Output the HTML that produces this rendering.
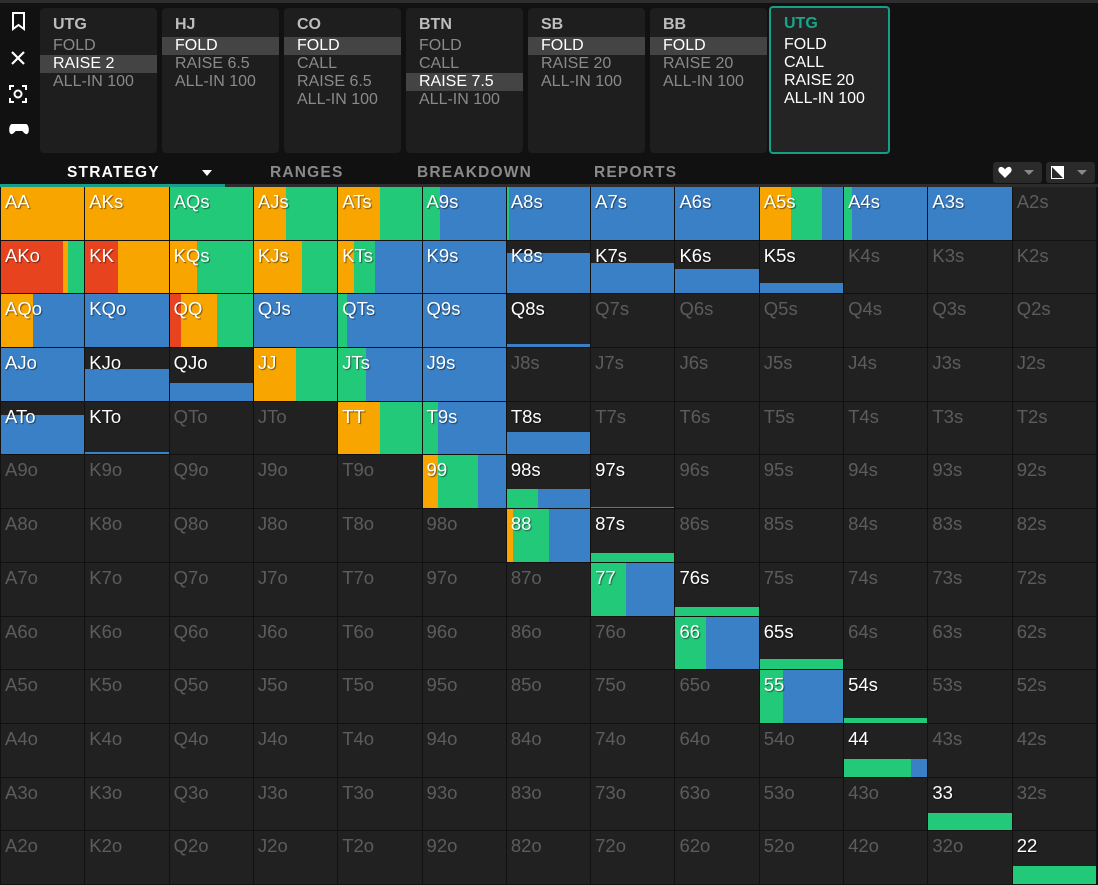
<!DOCTYPE html>
<html><head><meta charset="utf-8"><style>
*{margin:0;padding:0;box-sizing:border-box}
body{width:1098px;height:885px;background:#111;font-family:"Liberation Sans",sans-serif;position:relative;overflow:hidden}
.top{position:absolute;left:0;top:0;width:1098px;height:3px;background:#2e2e2e}
.card{position:absolute;top:8px;height:145px;width:117px;background:#1e1e1e;border-radius:4px;font-size:16px;color:#8a8a8a;line-height:18px}
.card .t{color:#bdbdbd;font-weight:bold;padding:8px 0 3px 13px;line-height:18px}
.card div.l{padding-left:13px}
.card div.h{background:#444;color:#fff}
.card.sel{border:2px solid #169f86;background:#242424;width:121px;left:769px;top:6px;height:148px}
.card.sel .t{color:#1aa58a;padding:7px 0 3px 13px}
.card.sel div.l{color:#fff}
.tab{position:absolute;top:164px;font-size:15.5px;letter-spacing:1.2px;color:#8a8a8a;font-weight:bold}
.grid{position:absolute;left:1px;top:187px;width:1095px;height:697px;display:grid;grid-template-columns:repeat(13,1fr);grid-template-rows:repeat(13,1fr);gap:1px;background:#111}
.c{position:relative;background:#212121;overflow:hidden}
.c span{position:absolute;left:4px;top:4px;font-size:18.5px;color:#fff;text-shadow:1px 1px 1px rgba(0,0,0,.5);z-index:2}
.c.e span{color:#5c5c5c;text-shadow:none}
.b{position:absolute;left:0;right:0;bottom:0;display:flex}
.b i{display:block;height:100%}
.r{background:#e8431f}.o{background:#f8a500}.g{background:#22c979}.u{background:#3a80c7}
.b i:last-child{flex:1}
.btn{position:absolute;top:162px;height:21px;width:49px;background:#2a2a2a;border-radius:3px}
</style></head><body>
<div class="top"></div>
<svg style="position:absolute;left:8px;top:10px" width="22" height="125" viewBox="0 0 22 125">
<path d="M5 3h11v16l-5.5-4-5.5 4z" fill="none" stroke="#fff" stroke-width="2"/>
<path d="M4 42l12 12M16 42L4 54" stroke="#fff" stroke-width="2.2"/>
<path d="M2 80v-4h4M14 76h4v4M18 88v4h-4M6 92H2v-4" stroke="#fff" stroke-width="2" fill="none"/>
<circle cx="10" cy="84" r="3.5" fill="none" stroke="#fff" stroke-width="2"/>
<path d="M4 114h14c3 0 4 9 1 10-2 1-4-3-5-3H8c-1 0-3 4-5 3-3-1-2-10 1-10z" fill="#fff"/>
</svg>
<div class="card" style="left:40px"><div class="t">UTG</div><div class="l">FOLD</div><div class="l h">RAISE 2</div><div class="l">ALL-IN 100</div></div>
<div class="card" style="left:162px"><div class="t">HJ</div><div class="l h">FOLD</div><div class="l">RAISE 6.5</div><div class="l">ALL-IN 100</div></div>
<div class="card" style="left:284px"><div class="t">CO</div><div class="l h">FOLD</div><div class="l">CALL</div><div class="l">RAISE 6.5</div><div class="l">ALL-IN 100</div></div>
<div class="card" style="left:406px"><div class="t">BTN</div><div class="l">FOLD</div><div class="l">CALL</div><div class="l h">RAISE 7.5</div><div class="l">ALL-IN 100</div></div>
<div class="card" style="left:528px"><div class="t">SB</div><div class="l h">FOLD</div><div class="l">RAISE 20</div><div class="l">ALL-IN 100</div></div>
<div class="card" style="left:650px"><div class="t">BB</div><div class="l h">FOLD</div><div class="l">RAISE 20</div><div class="l">ALL-IN 100</div></div>
<div class="card sel"><div class="t">UTG</div><div class="l">FOLD</div><div class="l">CALL</div><div class="l">RAISE 20</div><div class="l">ALL-IN 100</div></div>
<div class="tab" style="left:67px;color:#fff">STRATEGY</div>
<div style="position:absolute;left:202px;top:170px;border-left:5px solid transparent;border-right:5px solid transparent;border-top:6px solid #fff"></div>
<div class="tab" style="left:270px">RANGES</div>
<div class="tab" style="left:417px">BREAKDOWN</div>
<div class="tab" style="left:594px">REPORTS</div>
<div style="position:absolute;left:0;top:184px;width:1098px;height:3px;background:#2c2c2c"></div>
<div style="position:absolute;left:0;top:184px;width:225px;height:3px;background:#169f86"></div>
<div class="btn" style="left:993px"><svg style="position:absolute;left:5px;top:4px" width="14" height="13" viewBox="0 0 14 13"><path d="M7 12L1.5 6.5C-1 4 1 0 4 1c1.5.5 2.5 1.5 3 2.5C7.5 2.5 8.5 1.5 10 1c3-1 5 3 2.5 5.5z" fill="#fff"/></svg><div style="position:absolute;left:31px;top:8px;border-left:5px solid transparent;border-right:5px solid transparent;border-top:5px solid #888"></div></div>
<div class="btn" style="left:1046px"><svg style="position:absolute;left:5px;top:4px" width="13" height="13"><rect x="0.5" y="0.5" width="12" height="12" fill="none" stroke="#fff"/><path d="M0 0h13v13z" fill="#fff"/></svg><div style="position:absolute;left:31px;top:8px;border-left:5px solid transparent;border-right:5px solid transparent;border-top:5px solid #888"></div></div>

<div class="grid">
<div class="c"><div class="b" style="height:100%"><i class="o"></i></div><span>AA</span></div>
<div class="c"><div class="b" style="height:100%"><i class="o"></i></div><span>AKs</span></div>
<div class="c"><div class="b" style="height:100%"><i class="g"></i></div><span>AQs</span></div>
<div class="c"><div class="b" style="height:100%"><i class="o" style="width:38%"></i><i class="g"></i></div><span>AJs</span></div>
<div class="c"><div class="b" style="height:100%"><i class="o" style="width:50%"></i><i class="g"></i></div><span>ATs</span></div>
<div class="c"><div class="b" style="height:100%"><i class="g" style="width:21%"></i><i class="u"></i></div><span>A9s</span></div>
<div class="c"><div class="b" style="height:100%"><i class="g" style="width:3%"></i><i class="u"></i></div><span>A8s</span></div>
<div class="c"><div class="b" style="height:100%"><i class="u"></i></div><span>A7s</span></div>
<div class="c"><div class="b" style="height:100%"><i class="u"></i></div><span>A6s</span></div>
<div class="c"><div class="b" style="height:100%"><i class="o" style="width:38%"></i><i class="g" style="width:37%"></i><i class="u"></i></div><span>A5s</span></div>
<div class="c"><div class="b" style="height:100%"><i class="g" style="width:10%"></i><i class="u"></i></div><span>A4s</span></div>
<div class="c"><div class="b" style="height:100%"><i class="u"></i></div><span>A3s</span></div>
<div class="c e"><span>A2s</span></div>
<div class="c"><div class="b" style="height:100%"><i class="r" style="width:74%"></i><i class="o" style="width:7%"></i><i class="g"></i></div><span>AKo</span></div>
<div class="c"><div class="b" style="height:100%"><i class="r" style="width:39%"></i><i class="o"></i></div><span>KK</span></div>
<div class="c"><div class="b" style="height:100%"><i class="o" style="width:33%"></i><i class="g"></i></div><span>KQs</span></div>
<div class="c"><div class="b" style="height:100%"><i class="o" style="width:58%"></i><i class="g"></i></div><span>KJs</span></div>
<div class="c"><div class="b" style="height:100%"><i class="o" style="width:19%"></i><i class="g" style="width:25%"></i><i class="u"></i></div><span>KTs</span></div>
<div class="c"><div class="b" style="height:100%"><i class="u"></i></div><span>K9s</span></div>
<div class="c"><div class="b" style="height:77%"><i class="u"></i></div><span>K8s</span></div>
<div class="c"><div class="b" style="height:58%"><i class="u"></i></div><span>K7s</span></div>
<div class="c"><div class="b" style="height:46%"><i class="u"></i></div><span>K6s</span></div>
<div class="c"><div class="b" style="height:20%"><i class="u"></i></div><span>K5s</span></div>
<div class="c e"><span>K4s</span></div><div class="c e"><span>K3s</span></div><div class="c e"><span>K2s</span></div>
<div class="c"><div class="b" style="height:100%"><i class="o" style="width:38%"></i><i class="u"></i></div><span>AQo</span></div>
<div class="c"><div class="b" style="height:100%"><i class="u"></i></div><span>KQo</span></div>
<div class="c"><div class="b" style="height:100%"><i class="r" style="width:14%"></i><i class="o" style="width:43%"></i><i class="g"></i></div><span>QQ</span></div>
<div class="c"><div class="b" style="height:100%"><i class="u"></i></div><span>QJs</span></div>
<div class="c"><div class="b" style="height:100%"><i class="g" style="width:10%"></i><i class="u"></i></div><span>QTs</span></div>
<div class="c"><div class="b" style="height:100%"><i class="u"></i></div><span>Q9s</span></div>
<div class="c"><div class="b" style="height:5%"><i class="u"></i></div><span>Q8s</span></div>
<div class="c e"><span>Q7s</span></div><div class="c e"><span>Q6s</span></div><div class="c e"><span>Q5s</span></div><div class="c e"><span>Q4s</span></div><div class="c e"><span>Q3s</span></div><div class="c e"><span>Q2s</span></div>
<div class="c"><div class="b" style="height:100%"><i class="u"></i></div><span>AJo</span></div>
<div class="c"><div class="b" style="height:60%"><i class="u"></i></div><span>KJo</span></div>
<div class="c"><div class="b" style="height:34%"><i class="u"></i></div><span>QJo</span></div>
<div class="c"><div class="b" style="height:100%"><i class="o" style="width:50%"></i><i class="g"></i></div><span>JJ</span></div>
<div class="c"><div class="b" style="height:100%"><i class="g" style="width:33%"></i><i class="u"></i></div><span>JTs</span></div>
<div class="c"><div class="b" style="height:100%"><i class="u"></i></div><span>J9s</span></div>
<div class="c e"><span>J8s</span></div><div class="c e"><span>J7s</span></div><div class="c e"><span>J6s</span></div><div class="c e"><span>J5s</span></div><div class="c e"><span>J4s</span></div><div class="c e"><span>J3s</span></div><div class="c e"><span>J2s</span></div>
<div class="c"><div class="b" style="height:74%"><i class="u"></i></div><span>ATo</span></div>
<div class="c"><div class="b" style="height:5%"><i class="u"></i></div><span>KTo</span></div>
<div class="c e"><span>QTo</span></div><div class="c e"><span>JTo</span></div>
<div class="c"><div class="b" style="height:100%"><i class="o" style="width:50%"></i><i class="g"></i></div><span>TT</span></div>
<div class="c"><div class="b" style="height:100%"><i class="g" style="width:19%"></i><i class="u"></i></div><span>T9s</span></div>
<div class="c"><div class="b" style="height:43%"><i class="u"></i></div><span>T8s</span></div>
<div class="c e"><span>T7s</span></div><div class="c e"><span>T6s</span></div><div class="c e"><span>T5s</span></div><div class="c e"><span>T4s</span></div><div class="c e"><span>T3s</span></div><div class="c e"><span>T2s</span></div>
<div class="c e"><span>A9o</span></div><div class="c e"><span>K9o</span></div><div class="c e"><span>Q9o</span></div><div class="c e"><span>J9o</span></div><div class="c e"><span>T9o</span></div>
<div class="c"><div class="b" style="height:100%"><i class="o" style="width:19%"></i><i class="g" style="width:48%"></i><i class="u"></i></div><span>99</span></div>
<div class="c"><div class="b" style="height:37%"><i class="g" style="width:38%"></i><i class="u"></i></div><span>98s</span></div>
<div class="c"><div class="b" style="height:3%"><i class="u"></i></div><span>97s</span></div>
<div class="c e"><span>96s</span></div><div class="c e"><span>95s</span></div><div class="c e"><span>94s</span></div><div class="c e"><span>93s</span></div><div class="c e"><span>92s</span></div>
<div class="c e"><span>A8o</span></div><div class="c e"><span>K8o</span></div><div class="c e"><span>Q8o</span></div><div class="c e"><span>J8o</span></div><div class="c e"><span>T8o</span></div><div class="c e"><span>98o</span></div>
<div class="c"><div class="b" style="height:100%"><i class="o" style="width:7%"></i><i class="g" style="width:44%"></i><i class="u"></i></div><span>88</span></div>
<div class="c"><div class="b" style="height:17%"><i class="g"></i></div><span>87s</span></div>
<div class="c e"><span>86s</span></div><div class="c e"><span>85s</span></div><div class="c e"><span>84s</span></div><div class="c e"><span>83s</span></div><div class="c e"><span>82s</span></div>
<div class="c e"><span>A7o</span></div><div class="c e"><span>K7o</span></div><div class="c e"><span>Q7o</span></div><div class="c e"><span>J7o</span></div><div class="c e"><span>T7o</span></div><div class="c e"><span>97o</span></div><div class="c e"><span>87o</span></div>
<div class="c"><div class="b" style="height:100%"><i class="g" style="width:42%"></i><i class="u"></i></div><span>77</span></div>
<div class="c"><div class="b" style="height:17%"><i class="g"></i></div><span>76s</span></div>
<div class="c e"><span>75s</span></div><div class="c e"><span>74s</span></div><div class="c e"><span>73s</span></div><div class="c e"><span>72s</span></div>
<div class="c e"><span>A6o</span></div><div class="c e"><span>K6o</span></div><div class="c e"><span>Q6o</span></div><div class="c e"><span>J6o</span></div><div class="c e"><span>T6o</span></div><div class="c e"><span>96o</span></div><div class="c e"><span>86o</span></div><div class="c e"><span>76o</span></div>
<div class="c"><div class="b" style="height:100%"><i class="g" style="width:37%"></i><i class="u"></i></div><span>66</span></div>
<div class="c"><div class="b" style="height:20%"><i class="g"></i></div><span>65s</span></div>
<div class="c e"><span>64s</span></div><div class="c e"><span>63s</span></div><div class="c e"><span>62s</span></div>
<div class="c e"><span>A5o</span></div><div class="c e"><span>K5o</span></div><div class="c e"><span>Q5o</span></div><div class="c e"><span>J5o</span></div><div class="c e"><span>T5o</span></div><div class="c e"><span>95o</span></div><div class="c e"><span>85o</span></div><div class="c e"><span>75o</span></div><div class="c e"><span>65o</span></div>
<div class="c"><div class="b" style="height:100%"><i class="g" style="width:28%"></i><i class="u"></i></div><span>55</span></div>
<div class="c"><div class="b" style="height:9%"><i class="g"></i></div><span>54s</span></div>
<div class="c e"><span>53s</span></div><div class="c e"><span>52s</span></div>
<div class="c e"><span>A4o</span></div><div class="c e"><span>K4o</span></div><div class="c e"><span>Q4o</span></div><div class="c e"><span>J4o</span></div><div class="c e"><span>T4o</span></div><div class="c e"><span>94o</span></div><div class="c e"><span>84o</span></div><div class="c e"><span>74o</span></div><div class="c e"><span>64o</span></div><div class="c e"><span>54o</span></div>
<div class="c"><div class="b" style="height:34%"><i class="g" style="width:80%"></i><i class="u"></i></div><span>44</span></div>
<div class="c e"><span>43s</span></div><div class="c e"><span>42s</span></div>
<div class="c e"><span>A3o</span></div><div class="c e"><span>K3o</span></div><div class="c e"><span>Q3o</span></div><div class="c e"><span>J3o</span></div><div class="c e"><span>T3o</span></div><div class="c e"><span>93o</span></div><div class="c e"><span>83o</span></div><div class="c e"><span>73o</span></div><div class="c e"><span>63o</span></div><div class="c e"><span>53o</span></div><div class="c e"><span>43o</span></div>
<div class="c"><div class="b" style="height:32%"><i class="g"></i></div><span>33</span></div>
<div class="c e"><span>32s</span></div>
<div class="c e"><span>A2o</span></div><div class="c e"><span>K2o</span></div><div class="c e"><span>Q2o</span></div><div class="c e"><span>J2o</span></div><div class="c e"><span>T2o</span></div><div class="c e"><span>92o</span></div><div class="c e"><span>82o</span></div><div class="c e"><span>72o</span></div><div class="c e"><span>62o</span></div><div class="c e"><span>52o</span></div><div class="c e"><span>42o</span></div><div class="c e"><span>32o</span></div>
<div class="c"><div class="b" style="height:34%"><i class="g"></i></div><span>22</span></div>
</div>
</body></html>
